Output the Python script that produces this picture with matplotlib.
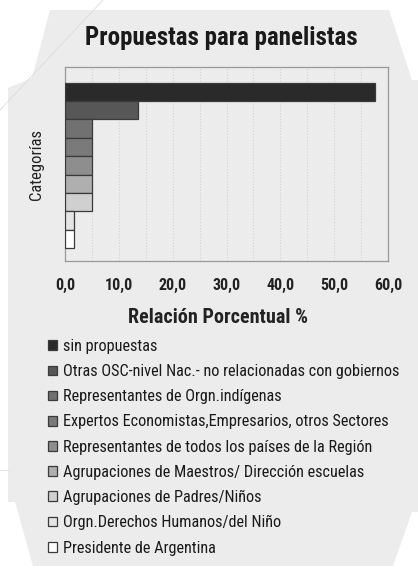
import matplotlib
matplotlib.use('Agg')
import matplotlib.pyplot as plt
from matplotlib import font_manager
from matplotlib.patches import Polygon
import numpy as np

categorias = [
    'sin propuestas',
    'Otras OSC-nivel Nac.- no relacionadas con gobiernos',
    'Representantes de Orgn.indígenas',
    'Expertos Economistas,Empresarios, otros Sectores',
    'Representantes de todos los países de la Región',
    'Agrupaciones de Maestros/ Dirección escuelas',
    'Agrupaciones de Padres/Niños',
    'Orgn.Derechos Humanos/del Niño',
    'Presidente de Argentina',
]
valores = [57.6, 13.6, 5.1, 5.1, 5.1, 5.1, 5.1, 1.7, 1.7]
colores = ['#2a2a2a', '#575757', '#717171', '#7a7a7a', '#8e8e8e',
           '#afafaf', '#d0d0d0', '#e4e4e4', '#ffffff']
ticks_x = [0, 10, 20, 30, 40, 50, 60]

# pick a narrow sans like the original (Arial Narrow look)
instaladas = {f.name for f in font_manager.fontManager.ttflist}
fuente = next((n for n in ['Liberation Sans Narrow', 'Roboto Condensed', 'Archivo Narrow',
                           'Barlow Semi Condensed'] if n in instaladas), 'DejaVu Sans')
plt.rcParams['font.family'] = [fuente, 'DejaVu Sans']

W, H = 418, 566
fig = plt.figure(figsize=(W / 100, H / 100), dpi=100)
fig.patch.set_facecolor('white')


def px(pts):
    return [(x / W, 1 - y / H) for x, y in pts]


# light gray card with cut corners
fondo = [(50, 10), (389, 10), (412, 80), (418, 80), (418, 512), (412, 512),
         (393, 566), (33, 566), (15, 502), (8, 502), (8, 88), (32, 78)]
fig.patches.append(Polygon(px(fondo), closed=True, transform=fig.transFigure,
                           facecolor='#ececec', edgecolor='none', zorder=-2))
# faint decorative lines
fig.add_artist(plt.Line2D([103 / W, 0], [1, 1 - 110 / H], transform=fig.transFigure,
                          color='#dcdcdc', lw=0.6, zorder=-1))
fig.add_artist(plt.Line2D([0, 8 / W], [1 - 470 / H, 1 - 470 / H], transform=fig.transFigure,
                          color='#dcdcdc', lw=0.6, zorder=-1))

ax = fig.add_axes([65 / W, 1 - 261 / H, (388 - 65) / W, (261 - 67) / H])
ax.set_facecolor('#ececec')

y = np.arange(len(valores))
bars = ax.barh(y, valores, height=1.0, color=colores, edgecolor='#3a3a3a',
               linewidth=0.9, zorder=3)
ax.set_ylim(len(valores) - 0.5 + 0.69, -0.5 - 0.85)
ax.set_xlim(0, 60)
ax.set_xticks(ticks_x)
ax.set_xticklabels([f'{t:.1f}'.replace('.', ',') for t in ticks_x],
                   fontsize=11.5, fontweight='bold', color='#222222')
ax.set_xticks(np.arange(5, 60, 5), minor=True)
ax.tick_params(axis='x', which='both', length=0, pad=12)
ax.set_yticks([])
ax.grid(axis='x', which='both', color='#d2d2d2', linestyle=':', linewidth=0.8, zorder=0)
for s in ax.spines.values():
    s.set_color('#999999')
    s.set_linewidth(0.9)

ax.set_ylabel('Categorías', fontsize=12, color='#222222', labelpad=15)
ax.set_xlabel('Relación Porcentual %', fontsize=14.5, fontweight='bold',
              color='#222222', labelpad=13)
ax.xaxis.set_label_coords((218 - 65) / (388 - 65), -(318 - 261) / (261 - 67))
ax.xaxis.label.set_va('center')

fig.text(221 / W, 1 - 38 / H, 'Propuestas para panelistas', ha='center', va='center',
         fontsize=18, fontweight='bold', color='#1a1a1a')

fig.legend(bars, categorias, loc='upper left', bbox_to_anchor=(48 / W, 1 - 339 / H),
           frameon=False, fontsize=11.7, handlelength=0.55, handleheight=0.55,
           handletextpad=0.35, labelspacing=0.625, borderaxespad=0, borderpad=0,
           labelcolor='#1a1a1a')

fig.savefig('out.png', dpi=100, facecolor='white')
